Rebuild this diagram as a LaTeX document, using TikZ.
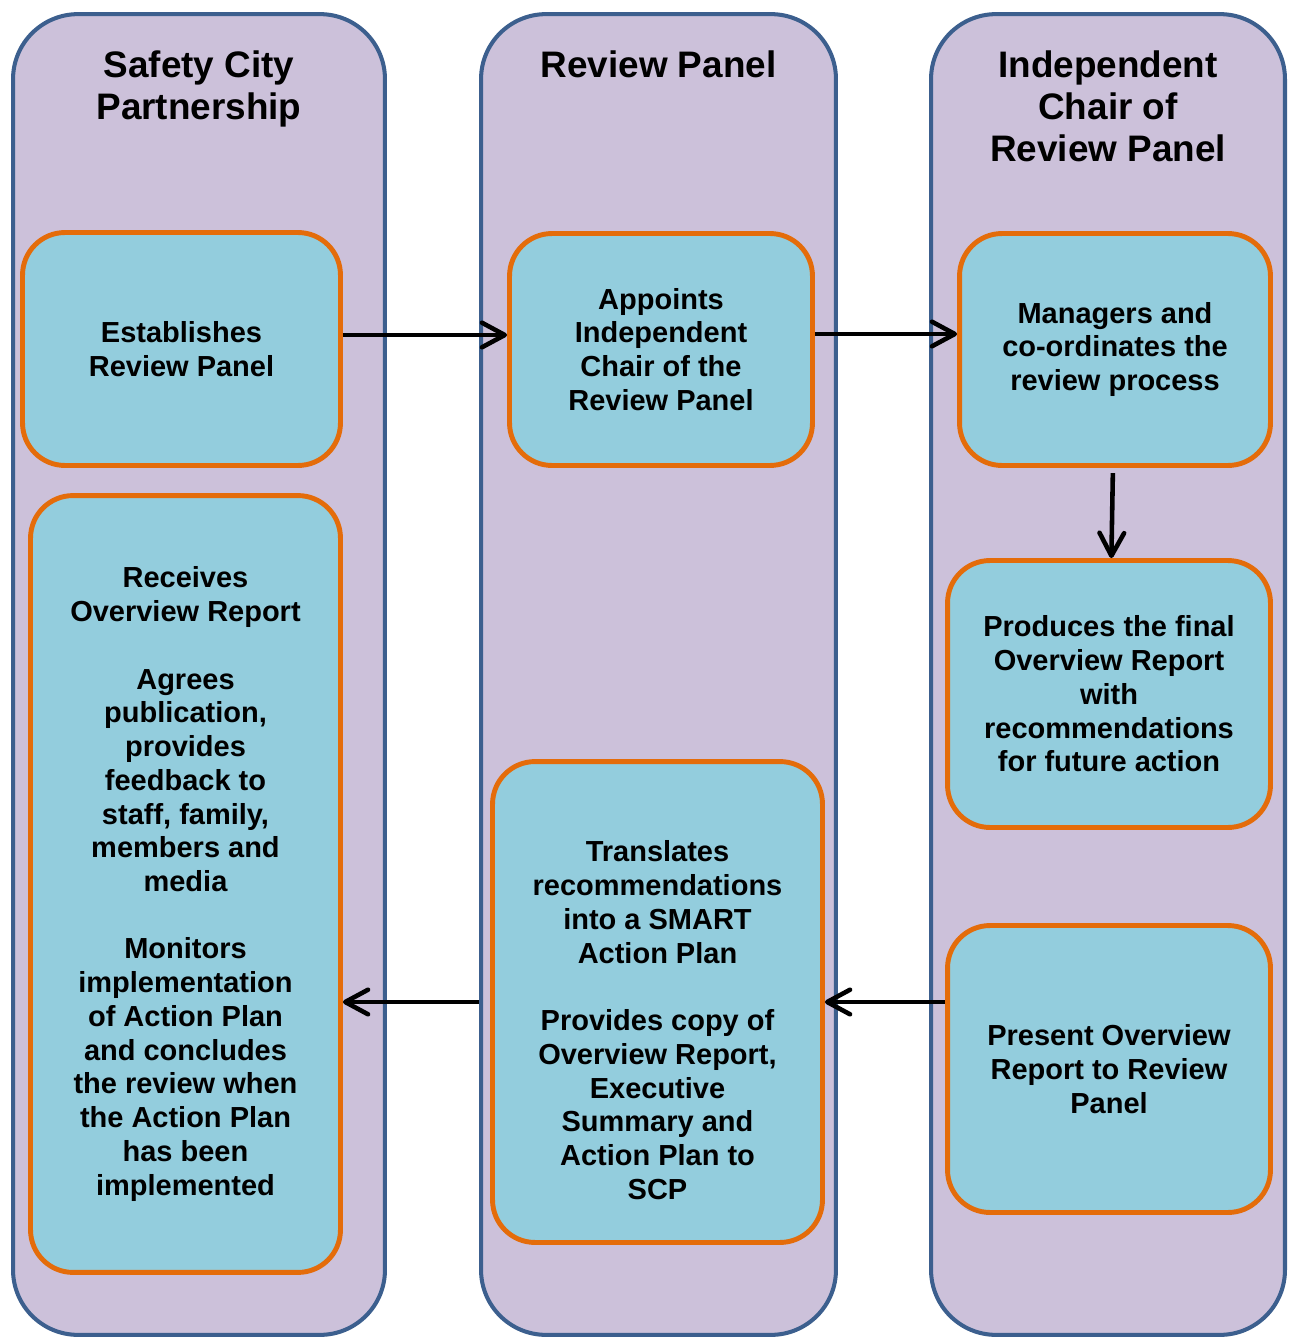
\documentclass[tikz,border=0pt]{standalone}
\usepackage{fontspec}
\setmainfont{Liberation Sans}
\usetikzlibrary{positioning,arrows.meta}

\definecolor{lanefill}{HTML}{CCC1DA}
\definecolor{laneline}{HTML}{3C5F8E}
\definecolor{boxfill}{HTML}{93CDDD}
\definecolor{boxline}{HTML}{E46C0A}

\tikzset{
	lane/.style={draw=laneline,fill=lanefill,line width=2.3pt,rounded corners=1.3cm,inner sep=0pt},
	lanetitle/.style={inner sep=0pt,align=center,font=\bfseries\fontsize{21}{24}\selectfont},
	stepbox/.style={draw=boxline,fill=boxfill,line width=2.8pt,rounded corners=0.85cm,inner sep=0pt,align=center,font=\bfseries\fontsize{16.5}{19.2}\selectfont},
	flow/.style={line width=2.6pt,-{Straight Barb[length=13pt,width=14pt,round]}}
}

\begin{document}
\begin{tikzpicture}[x=0.02cm,y=-0.02cm]
		\useasboundingbox (0,0) rectangle (1298,1338);

		%lanes
		\node[lane,minimum width=7.44cm,minimum height=26.42cm] (scp) at (199,674.5) {};
		\node[lane,minimum width=7.1cm,minimum height=26.42cm] (rp) at (658.5,674.5) {};
		\node[lane,minimum width=7.08cm,minimum height=26.42cm] (icr) at (1108,674.5) {};

		%lane titles
		\node[lanetitle,below=0.76cm of scp.north] (scpt) {Safety City\\Partnership};
		\node[lanetitle,below=0.76cm of rp.north] (rpt) {Review Panel};
		\node[lanetitle,below=0.76cm of icr.north] (icrt) {Independent\\Chair of\\Review Panel};

		%top row
		\node[stepbox,minimum width=6.36cm,minimum height=4.66cm] (est) at (181.5,349) {Establishes\\Review Panel};
		\node[stepbox,minimum width=6.06cm,minimum height=4.64cm] (app) at (661,349.5) {Appoints\\Independent\\Chair of the\\Review Panel};
		\node[stepbox,minimum width=6.22cm,minimum height=4.64cm] (mgr) at (1115,349.5) {Managers and\\co-ordinates the\\review process};

		%lower boxes
		\node[stepbox,minimum width=6.46cm,minimum height=5.34cm] (prod) at (1109,694) {Produces the final\\Overview Report\\with\\recommendations\\for future action};
		\node[stepbox,minimum width=6.46cm,minimum height=5.74cm] (pres) at (1109,1069) {Present Overview\\Report to Review\\Panel};
		\node[stepbox,minimum width=6.6cm,minimum height=9.62cm] (trans) at (657.5,1002) {\strut\\Translates\\recommendations\\into a SMART\\Action Plan\\[19.2pt]Provides copy of\\Overview Report,\\Executive\\Summary and\\Action Plan to\\SCP};
		\node[stepbox,minimum width=6.2cm,minimum height=15.54cm] (recv) at (185.5,884) {Receives\\Overview Report\\[19.2pt]Agrees\\publication,\\provides\\feedback to\\staff, family,\\members and\\media\\[19.2pt]Monitors\\implementation\\of Action Plan\\and concludes\\the review when\\the Action Plan\\has been\\implemented};

		%arrows
		\draw[flow] ([yshift=0.28cm]est.east) -- ([yshift=0.28cm]est.east -| app.west);
		\draw[flow] ([yshift=0.31cm]app.east) -- ([yshift=0.31cm]app.east -| mgr.west);
		\draw[flow,shorten <=3pt] (mgr) -- (prod);
		\draw[flow] (pres.west |- trans.east) -- (trans.east);
		\draw[flow] (rp.west |- trans.west) -- (recv.east |- trans.west);
\end{tikzpicture}
\end{document}
